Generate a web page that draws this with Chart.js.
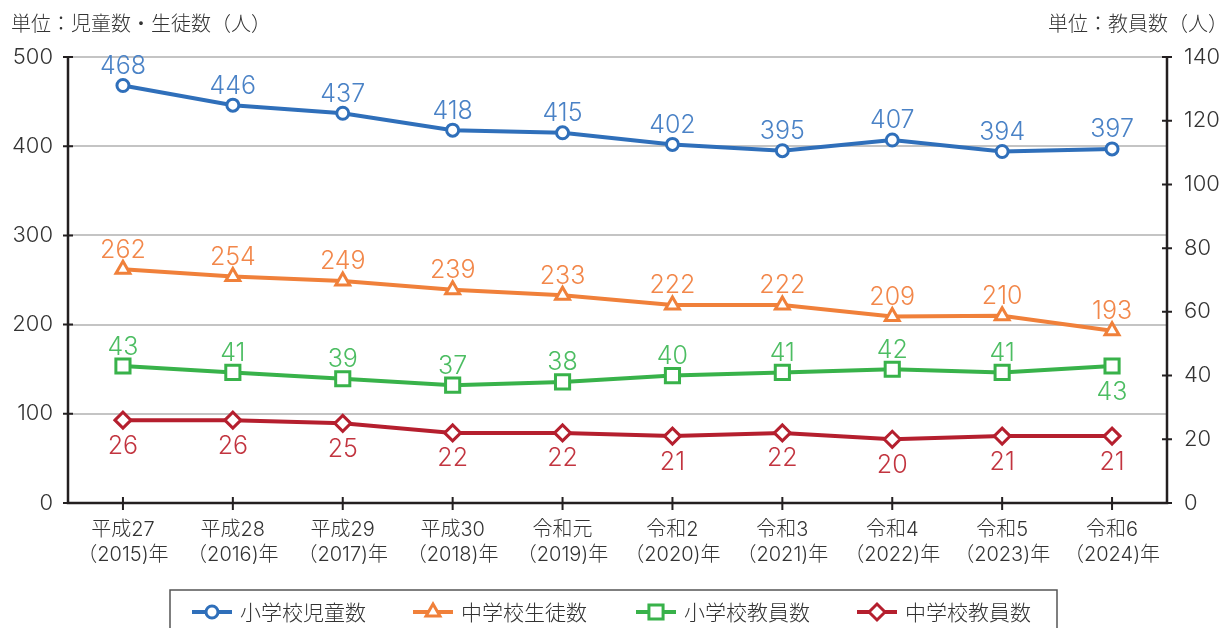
<!DOCTYPE html>
<html lang="ja">
<head>
  <meta charset="UTF-8" />
  <title>児童数・生徒数・教員数の推移</title>
  <script src="https://cdn.jsdelivr.net/npm/chart.js"></script>
  <style>
    body {
      margin: 0;
      background: #fff;
    }

    .chart-box {
      position: relative;
      width: 1229px;
      height: 628px;
    }
  </style>
</head>
<body>
  <div class="chart-box">
    <canvas id="trendChart"></canvas>
  </div>

  <script>
    const years = [
      ['平成27', '（2015)年'], ['平成28', '（2016)年'], ['平成29', '（2017)年'],
      ['平成30', '（2018)年'], ['令和元', '（2019)年'], ['令和2', '（2020)年'],
      ['令和3', '（2021)年'], ['令和4', '（2022)年'], ['令和5', '（2023)年'],
      ['令和6', '（2024)年']
    ];
    const elemPupils = [468, 446, 437, 418, 415, 402, 395, 407, 394, 397];
    const juniorStudents = [262, 254, 249, 239, 233, 222, 222, 209, 210, 193];
    const elemTeachers = [43, 41, 39, 37, 38, 40, 41, 42, 41, 43];
    const juniorTeachers = [26, 26, 25, 22, 22, 21, 22, 20, 21, 21];
    const seriesNames = ['小学校児童数', '中学校生徒数', '小学校教員数', '中学校教員数'];
    const leftTicks = [0, 100, 200, 300, 400, 500];
    const rightTicks = [0, 20, 40, 60, 80, 100, 120, 140];

    // Inter for the digits, Noto CJK picks up the Japanese glyphs
    const FONT = "Inter, 'Noto Sans CJK JP', 'Noto Sans', sans-serif";
    const JP = "'Noto Sans CJK JP', 'Noto Sans', sans-serif";
    const AXIS = '#231f20';

    // label colour and which points get their value below the marker
    const labelStyle = [
      { color: '#4a82c6', below: [] },
      { color: '#f2874a', below: [] },
      { color: '#4cbd62', below: [9] },
      { color: '#c2343f', below: [0, 1, 2, 3, 4, 5, 6, 7, 8, 9] }
    ];

    const axisPlugin = {
      id: 'axisLines',
      beforeDatasetsDraw(chart) {
        const { ctx, chartArea: a, scales } = chart;
        ctx.save();
        ctx.strokeStyle = AXIS;
        ctx.lineWidth = 2.5;
        ctx.beginPath();
        ctx.moveTo(a.left, a.top);
        ctx.lineTo(a.left, a.bottom);
        ctx.lineTo(a.right, a.bottom);
        ctx.lineTo(a.right, a.top);
        ctx.stroke();

        ctx.lineWidth = 2;
        ctx.beginPath();
        leftTicks.forEach(v => {
          const y = scales.y.getPixelForValue(v);
          ctx.moveTo(a.left - 5, y);
          ctx.lineTo(a.left + 5, y);
        });
        rightTicks.forEach(v => {
          const y = scales.y2.getPixelForValue(v);
          ctx.moveTo(a.right - 5, y);
          ctx.lineTo(a.right + 5, y);
        });
        years.forEach((_, i) => {
          const x = scales.x.getPixelForValue(i);
          ctx.moveTo(x, a.bottom - 6);
          ctx.lineTo(x, a.bottom + 7);
        });
        ctx.stroke();
        ctx.restore();
      }
    };

    const valuePlugin = {
      id: 'valueLabels',
      afterDatasetsDraw(chart) {
        const ctx = chart.ctx;
        ctx.save();
        ctx.font = '300 25px ' + FONT;
        ctx.textAlign = 'center';
        ctx.textBaseline = 'middle';
        chart.data.datasets.forEach((ds, di) => {
          const meta = chart.getDatasetMeta(di);
          ctx.fillStyle = labelStyle[di].color;
          meta.data.forEach((pt, i) => {
            const down = labelStyle[di].below.includes(i);
            ctx.fillText(String(ds.data[i]), pt.x, pt.y + (down ? 26 : -19));
          });
        });
        ctx.restore();
      }
    };

    const framePlugin = {
      id: 'titlesAndLegend',
      afterDraw(chart) {
        const ctx = chart.ctx;
        ctx.save();
        ctx.fillStyle = '#333';
        ctx.font = '300 20px ' + JP;
        ctx.textBaseline = 'middle';
        ctx.textAlign = 'left';
        ctx.fillText('単位：児童数・生徒数（人）', 11, 23);
        ctx.textAlign = 'right';
        ctx.fillText('単位：教員数（人）', 1228, 23);

        // legend box
        ctx.strokeStyle = '#555';
        ctx.lineWidth = 1.5;
        ctx.strokeRect(170, 590, 887, 60);

        const starts = [192, 413, 636, 857];
        const cy = 612;
        chart.data.datasets.forEach((ds, di) => {
          const x0 = starts[di];
          ctx.strokeStyle = ds.borderColor;
          ctx.lineWidth = 4;
          ctx.beginPath();
          ctx.moveTo(x0, cy);
          ctx.lineTo(x0 + 40, cy);
          ctx.stroke();
          ctx.fillStyle = '#fff';
          ctx.lineWidth = 3;
          Chart.helpers.drawPoint(ctx, {
            pointStyle: ds.pointStyle,
            radius: ds.pointRadius,
            rotation: 0,
            borderWidth: 3
          }, x0 + 20, cy);
          ctx.fillStyle = '#333';
          ctx.textAlign = 'left';
          ctx.font = '300 21px ' + JP;
          ctx.fillText(seriesNames[di], x0 + 48, cy);
        });
        ctx.restore();
      }
    };

    function lineSet(label, data, color, style, radius, axis) {
      return {
        label: label,
        data: data,
        yAxisID: axis,
        borderColor: color,
        backgroundColor: '#fff',
        borderWidth: 4,
        pointStyle: style,
        pointRadius: radius,
        pointBorderWidth: 3,
        pointBackgroundColor: '#fff',
        pointBorderColor: color,
        tension: 0
      };
    }

    new Chart(document.getElementById('trendChart'), {
      type: 'line',
      data: {
        labels: years,
        datasets: [
          lineSet(seriesNames[0], elemPupils, '#2f6fba', 'circle', 6, 'y'),
          lineSet(seriesNames[1], juniorStudents, '#f0803a', 'triangle', 8, 'y'),
          lineSet(seriesNames[2], elemTeachers, '#38b24a', 'rect', 10, 'y2'),
          lineSet(seriesNames[3], juniorTeachers, '#b51f2e', 'rectRot', 8, 'y2')
        ]
      },
      options: {
        responsive: true,
        maintainAspectRatio: false,
        animation: false,
        layout: { padding: { top: 57, left: 0, right: 0, bottom: 0 } },
        plugins: {
          legend: { display: false },
          tooltip: { enabled: false }
        },
        scales: {
          x: {
            offset: true,
            grid: { display: false },
            border: { display: false },
            ticks: {
              color: '#333',
              font: { family: FONT, size: 20, weight: 300, lineHeight: 1.25 },
              padding: 6,
              maxRotation: 0,
              autoSkip: false
            },
            afterFit(scale) { scale.height = 125; }
          },
          y: {
            position: 'left',
            min: 0,
            max: 500,
            afterBuildTicks(scale) { scale.ticks = leftTicks.map(v => ({ value: v })); },
            grid: { color: '#c4c4c4', lineWidth: 2, drawTicks: false },
            border: { display: false },
            ticks: {
              color: '#333',
              font: { family: FONT, size: 22, weight: 300 },
              padding: 15
            },
            afterFit(scale) { scale.width = 68; }
          },
          y2: {
            position: 'right',
            min: 0,
            max: 140,
            afterBuildTicks(scale) { scale.ticks = rightTicks.map(v => ({ value: v })); },
            grid: { display: false, drawTicks: false },
            border: { display: false },
            ticks: {
              color: '#333',
              font: { family: FONT, size: 22, weight: 300 },
              padding: 17
            },
            afterFit(scale) { scale.width = 62; }
          }
        }
      },
      plugins: [axisPlugin, valuePlugin, framePlugin]
    });
  </script>
</body>
</html>
